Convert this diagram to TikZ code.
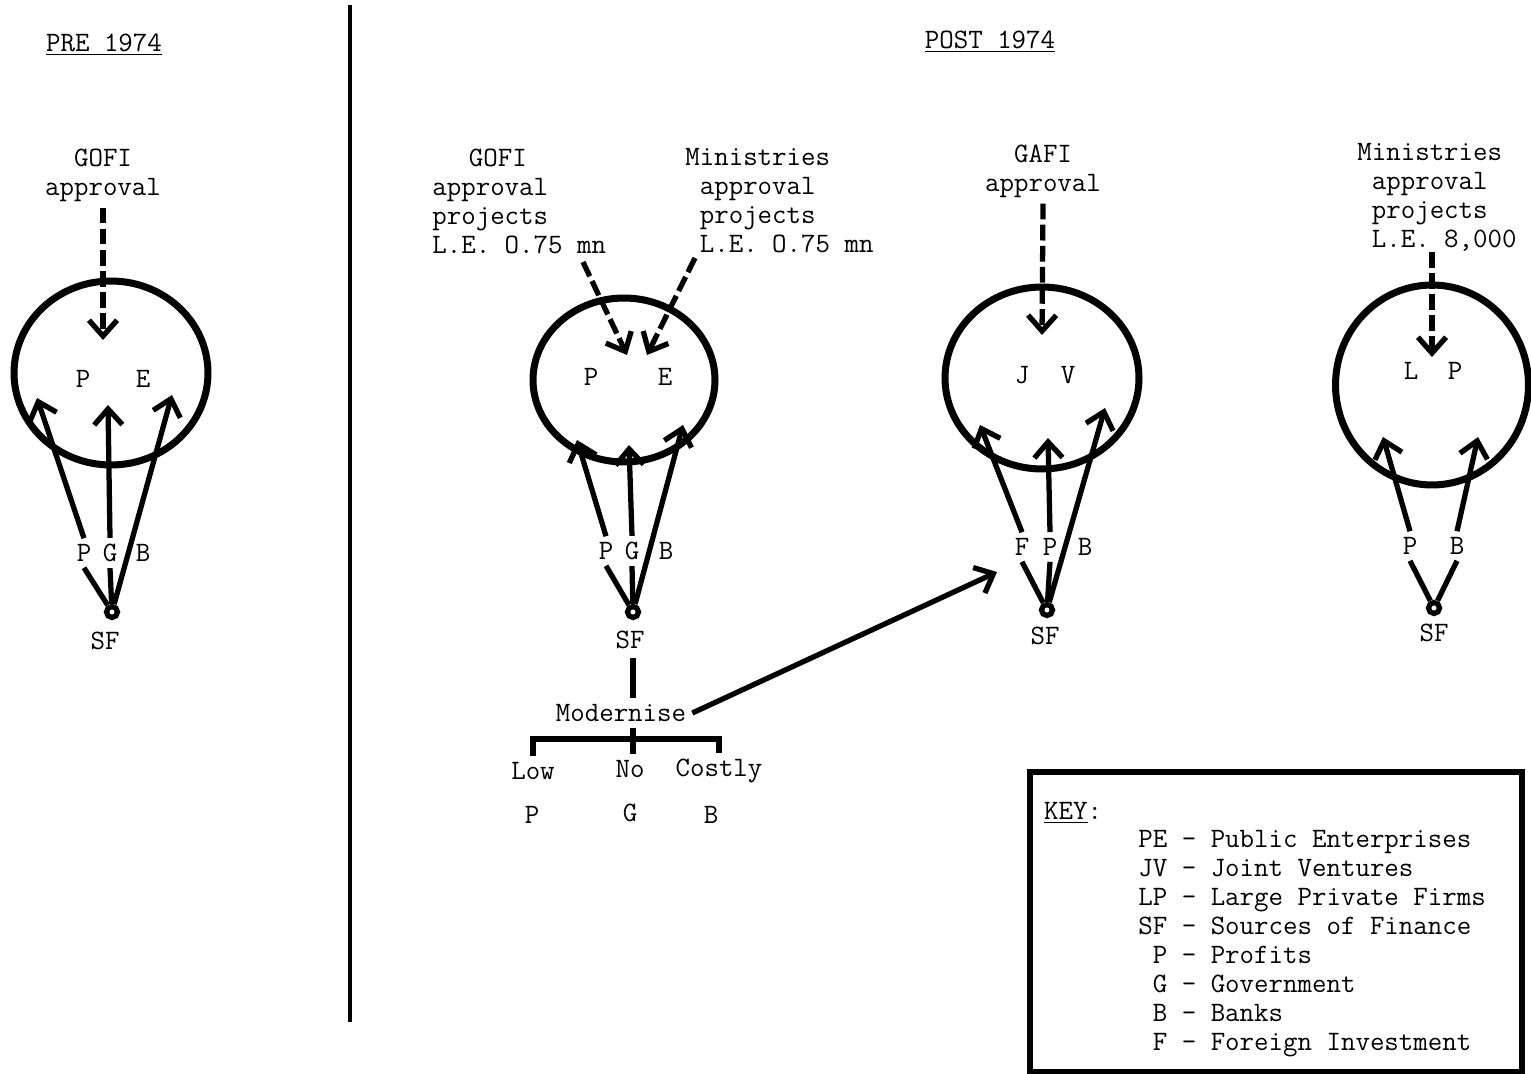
\documentclass[tikz,border=0pt]{standalone}
\usepackage{fontspec}
\usetikzlibrary{positioning, arrows.meta, shapes.geometric}

\begin{document}
\begin{tikzpicture}[x=0.02cm, y=-0.02cm,
    font=\fontsize{16}{16.5}\selectfont\ttfamily,
    >={Straight Barb[length=9pt, width=16pt]},
    firm/.style={ellipse, draw, line width=4pt, inner sep=0pt},
    block/.style={align=left, anchor=west, inner sep=0pt},
    flow/.style={->, line width=3pt},
    approve/.style={->, line width=3pt, dash pattern=on 9pt off 3pt},
    leg/.style={line width=3pt},
    srcdot/.style={circle, draw, line width=3pt, fill=white, minimum size=0.22cm, inner sep=0pt},
    keybox/.style={draw, line width=3pt, minimum width=9.84cm, minimum height=6cm}]

  \useasboundingbox (0,0) rectangle (1531,1074);

  % --- headings and divider ---
  \node (pre) at (104,45) {\underline{PRE 1974}};
  \node (post) at (990,42) {\underline{POST 1974}};
  \draw[line width=2.8pt] (350,5) -- (350,1022);

  % --- PRE 1974: GOFI ---
  \node[firm, minimum width=3.88cm, minimum height=3.68cm] (pe0) at (111,373) {};
  \node (pe0p) at (83,379) {P};
  \node (pe0e) at (143,379) {E};
  \node[align=center] (gofi0) at (103,175) {GOFI\\approval};
  \coordinate (gofi0in) at (103,340);
  \draw[approve] (gofi0.south) -- (gofi0in);

  \node (p0) at (84,553) {P};
  \node (g0) at (110,553) {G};
  \node (b0) at (143,553) {B};
  \node[srcdot] (sf0) at (112,612) {};
  \node (sf0l) at (105,641) {SF};
  \coordinate (p0in) at (37,398);
  \coordinate (g0in) at (108,405);
  \coordinate (b0in) at (172,395);
  \draw[flow] (p0.north) -- (p0in);
  \draw[flow] (g0.north) -- (g0in);
  \draw[flow] (sf0) -- (b0in);
  \draw[leg] (p0.south) -- (sf0);
  \draw[leg] (g0.south) -- (sf0);

  % --- POST 1974: GOFI / Ministries ---
  \node[firm, minimum width=3.64cm, minimum height=3.28cm] (pe1) at (624,380) {};
  \node (pe1p) at (591,377) {P};
  \node (pe1e) at (665,377) {E};
  \node[block] (gofi1) at (432,201) {\hspace*{1.3em}GOFI\\approval\\projects\\L.E. O.75 mn};
  \node[block] (min1) at (685,201) {Ministries\\\ approval\\\ projects\\\ L.E. O.75 mn};
  \coordinate (gofi1out) at (583,262);
  \coordinate (gofi1in) at (627,355);
  \coordinate (min1out) at (695,258);
  \coordinate (min1in) at (647,355);
  \draw[approve] (gofi1out) -- (gofi1in);
  \draw[approve] (min1out) -- (min1in);

  \node (p1) at (606,551) {P};
  \node (g1) at (632,551) {G};
  \node (b1) at (666,551) {B};
  \node[srcdot] (sf1) at (633,612) {};
  \node (sf1l) at (630,640) {SF};
  \coordinate (p1in) at (577,440);
  \coordinate (g1in) at (629,445);
  \coordinate (b1in) at (683,425);
  \draw[flow] (p1.north) -- (p1in);
  \draw[flow] (g1.north) -- (g1in);
  \draw[flow] (sf1) -- (b1in);
  \draw[leg] (p1.south) -- (sf1);
  \draw[leg] (g1.south) -- (sf1);

  \node (mod) at (621,713) {Modernise};
  \coordinate (modtop) at (633,658);
  \draw[leg] (modtop) -- (modtop |- mod.north);
  \node (low) at (533,771) {Low};
  \node (no) at (630,769) {No};
  \node (costly) at (719,771) {Costly};
  \node (lowp) at (532,815) {P};
  \node (nog) at (630,813) {G};
  \node (costlyb) at (711,815) {B};
  \draw[leg] (low.north) -- ++(0,-17) -| (costly.north);
  \draw[leg] (modtop |- mod.south) -- (modtop |- no.north);

  \coordinate (jvout) at (997,572);
  \draw[flow] (mod.east) -- (jvout);

  % --- POST 1974: GAFI ---
  \node[firm, minimum width=3.88cm, minimum height=3.64cm] (jv) at (1042,378) {};
  \node (jvj) at (1022,375) {J};
  \node (jvv) at (1068,375) {V};
  \node[align=center] (gafi) at (1043,171) {GAFI\\approval};
  \coordinate (gafiin) at (1042,335);
  \draw[approve] (gafi.south) -- (gafiin);

  \node (f2) at (1022,547) {F};
  \node (p2) at (1050,547) {P};
  \node (b2) at (1085,547) {B};
  \node[srcdot] (sf2) at (1047,610) {};
  \node (sf2l) at (1045,636) {SF};
  \coordinate (f2in) at (980,425);
  \coordinate (p2in) at (1048,438);
  \coordinate (b2in) at (1105,408);
  \draw[flow] (f2.north) -- (f2in);
  \draw[flow] (p2.north) -- (p2in);
  \draw[flow] (sf2) -- (b2in);
  \draw[leg] (f2.south) -- (sf2);
  \draw[leg] (p2.south) -- (sf2);

  % --- POST 1974: Ministries (LP) ---
  \node[firm, minimum width=3.86cm, minimum height=4cm] (lp) at (1432,385) {};
  \node (lpl) at (1411,371) {L};
  \node (lpp) at (1455,371) {P};
  \node[block] (min3) at (1357,197) {Ministries\\\ approval\\\ projects\\\ L.E. 8,000};
  \coordinate (min3out) at (1432,252);
  \coordinate (min3in) at (1432,357);
  \draw[approve] (min3out) -- (min3in);

  \node (p3) at (1410,546) {P};
  \node (b3) at (1457,546) {B};
  \node[srcdot] (sf3) at (1434,608) {};
  \node (sf3l) at (1434,633) {SF};
  \coordinate (p3in) at (1383,437);
  \coordinate (b3in) at (1478,437);
  \draw[flow] (p3.north) -- (p3in);
  \draw[flow] (b3.north) -- (b3in);
  \draw[leg] (p3.south) -- (sf3);
  \draw[leg] (b3.south) -- (sf3);

  % --- key ---
  \node[keybox] (key) at (1276,922) {};
  \node[anchor=west] (keyhd) at (1038,813) {\underline{KEY}:};
  \node[block] (keytxt) at (1138,944) {PE - Public Enterprises\\JV - Joint Ventures\\LP - Large Private Firms\\SF - Sources of Finance\\\ P - Profits\\\ G - Government\\\ B - Banks\\\ F - Foreign Investment};
\end{tikzpicture}
\end{document}
